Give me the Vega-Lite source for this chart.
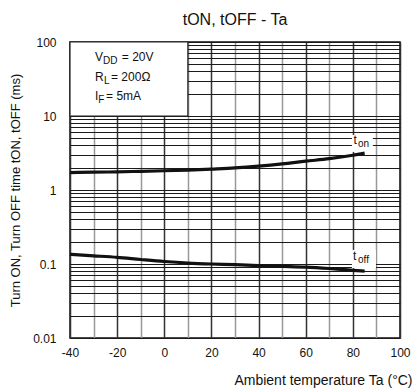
{
  "$schema": "https://vega.github.io/schema/vega-lite/v6.json",
  "width": 330,
  "height": 296,
  "autosize": {"type": "none"},
  "padding": {"left": 70, "top": 42, "right": 14, "bottom": 51},
  "background": "white",
  "config": {
    "font": "Liberation Sans",
    "view": {"stroke": "#111", "strokeWidth": 1.5},
    "axis": {"labelFont": "Liberation Sans", "titleFont": "Liberation Sans", "labelColor": "#111", "titleColor": "#111", "titleFontWeight": "normal"}
  },
  "title": {"text": "tON, tOFF - Ta", "fontSize": 16, "fontWeight": "normal", "font": "Liberation Sans", "color": "#111", "offset": 8, "anchor": "middle"},
  "datasets": {
    "curves": [
      {"series": "ton", "Ta": -40, "t": 1.72}, {"series": "ton", "Ta": -30, "t": 1.74}, {"series": "ton", "Ta": -20, "t": 1.76},
      {"series": "ton", "Ta": -10, "t": 1.79}, {"series": "ton", "Ta": 0, "t": 1.82}, {"series": "ton", "Ta": 10, "t": 1.86},
      {"series": "ton", "Ta": 20, "t": 1.92}, {"series": "ton", "Ta": 30, "t": 1.99}, {"series": "ton", "Ta": 40, "t": 2.1},
      {"series": "ton", "Ta": 50, "t": 2.25}, {"series": "ton", "Ta": 60, "t": 2.45}, {"series": "ton", "Ta": 70, "t": 2.65},
      {"series": "ton", "Ta": 80, "t": 2.95}, {"series": "ton", "Ta": 85, "t": 3.15},
      {"series": "toff", "Ta": -40, "t": 0.135}, {"series": "toff", "Ta": -30, "t": 0.129}, {"series": "toff", "Ta": -20, "t": 0.123},
      {"series": "toff", "Ta": -10, "t": 0.115}, {"series": "toff", "Ta": 0, "t": 0.108}, {"series": "toff", "Ta": 10, "t": 0.103},
      {"series": "toff", "Ta": 20, "t": 0.1}, {"series": "toff", "Ta": 30, "t": 0.098}, {"series": "toff", "Ta": 40, "t": 0.095},
      {"series": "toff", "Ta": 50, "t": 0.093}, {"series": "toff", "Ta": 60, "t": 0.091}, {"series": "toff", "Ta": 70, "t": 0.087},
      {"series": "toff", "Ta": 80, "t": 0.082}, {"series": "toff", "Ta": 85, "t": 0.08}
    ],
    "boxes": [
      {"name": "conditions", "x": -40, "x2": 10, "y": 10, "y2": 100},
      {"name": "ton", "x": 79.6, "x2": 88.5, "y": 3.27, "y2": 5.53},
      {"name": "toff", "x": 79.6, "x2": 89.8, "y": 0.088, "y2": 0.155}
    ],
    "mainText": [
      {"x": -29.4, "y": 55.3, "text": "V"},
      {"x": -18.0, "y": 55.3, "text": "= 20V"},
      {"x": -29.4, "y": 29.7, "text": "R"},
      {"x": -22.6, "y": 29.7, "text": "= 200Ω"},
      {"x": -29.4, "y": 16.4, "text": "I"},
      {"x": -24.7, "y": 16.4, "text": "= 5mA"},
      {"x": 80.3, "y": 4.19, "text": "t"},
      {"x": 80.1, "y": 0.113, "text": "t"}
    ],
    "subText": [
      {"x": -26.0, "y": 55.3, "text": "DD"},
      {"x": -25.6, "y": 29.7, "text": "L"},
      {"x": -28.0, "y": 16.4, "text": "F"},
      {"x": 82.2, "y": 4.19, "text": "on"},
      {"x": 82.2, "y": 0.113, "text": "off"}
    ]
  },
  "encoding": {
    "x": {"type": "quantitative", "scale": {"domain": [-40, 100], "nice": false, "zero": false},
      "axis": {"values": [-40, -30, -20, -10, 0, 10, 20, 30, 40, 50, 60, 70, 80, 90, 100],
        "labelExpr": "datum.value % 20 === 0 ? '' + datum.value : ''",
        "title": "Ambient temperature Ta (°C)", "titleFontSize": 14,
        "titleAnchor": "end", "titleAlign": "right", "titleX": 342, "titleY": 46, "titleBaseline": "alphabetic",
        "labelFontSize": 12, "labelPadding": 9, "ticks": false, "domain": false, "labelFlush": false,
        "grid": true, "gridWidth": 1.5, "gridOpacity": 1,
        "gridColor": {"condition": {"test": "datum.value % 20 === 0", "value": "#333"}, "value": "#999"}}},
    "y": {"type": "quantitative", "scale": {"type": "log", "domain": [0.01, 100], "nice": false},
      "axis": {"values": [0.01, 0.02, 0.03, 0.04, 0.05, 0.06, 0.07, 0.08, 0.09, 0.1, 0.2, 0.3, 0.4, 0.5, 0.6, 0.7, 0.8, 0.9, 1, 2, 3, 4, 5, 6, 7, 8, 9, 10, 20, 30, 40, 50, 60, 70, 80, 90, 100],
        "labelExpr": "indexof([0.01, 0.1, 1, 10, 100], datum.value) >= 0 ? '' + datum.value : ''",
        "title": "Turn ON, Turn OFF time tON, tOFF (ms)", "titleFontSize": 13,
        "titlePadding": 10, "labelFontSize": 12, "labelPadding": 14, "ticks": false, "domain": false, "labelBaseline": "middle",
        "labelFlush": false, "labelOverlap": false,
        "grid": true, "gridColor": "#1a1a1a", "gridWidth": 1.1, "gridOpacity": 1}}
  },
  "layer": [
    {
      "data": {"name": "boxes"},
      "transform": [{"filter": "datum.name === 'conditions'"}],
      "mark": {"type": "rect", "fill": "white", "stroke": "#222", "strokeWidth": 1.2},
      "encoding": {
        "x": {"field": "x", "type": "quantitative"},
        "x2": {"field": "x2"},
        "y": {"field": "y", "type": "quantitative"},
        "y2": {"field": "y2"}
      }
    },
    {
      "data": {"name": "boxes"},
      "transform": [{"filter": "datum.name !== 'conditions'"}],
      "mark": {"type": "rect", "fill": "white"},
      "encoding": {
        "x": {"field": "x", "type": "quantitative"},
        "x2": {"field": "x2"},
        "y": {"field": "y", "type": "quantitative"},
        "y2": {"field": "y2"}
      }
    },
    {
      "data": {"name": "curves"},
      "mark": {"type": "line", "color": "#111", "strokeWidth": 3.2, "interpolate": "monotone"},
      "encoding": {
        "x": {"field": "Ta", "type": "quantitative"},
        "y": {"field": "t", "type": "quantitative"},
        "detail": {"field": "series"}
      }
    },
    {
      "data": {"name": "mainText"},
      "mark": {"type": "text", "align": "left", "baseline": "alphabetic", "fontSize": 12, "color": "#111"},
      "encoding": {
        "x": {"field": "x", "type": "quantitative"},
        "y": {"field": "y", "type": "quantitative"},
        "text": {"field": "text"}
      }
    },
    {
      "data": {"name": "subText"},
      "mark": {"type": "text", "align": "left", "baseline": "alphabetic", "fontSize": 10, "dy": 3, "color": "#111"},
      "encoding": {
        "x": {"field": "x", "type": "quantitative"},
        "y": {"field": "y", "type": "quantitative"},
        "text": {"field": "text"}
      }
    }
  ]
}
